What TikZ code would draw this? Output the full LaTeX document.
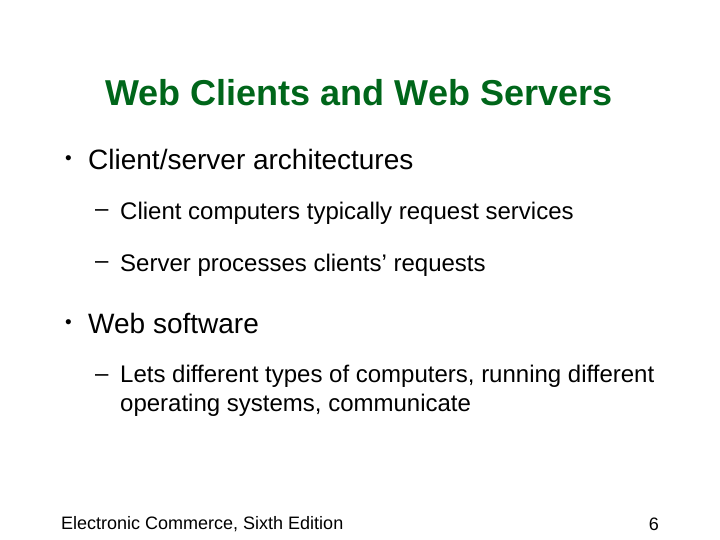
\documentclass[tikz,border=0pt]{standalone}
\usepackage{fontspec}
\setmainfont{Liberation Sans}
\definecolor{titlegreen}{HTML}{00661A}
\begin{document}
\begin{tikzpicture}[x=1pt,y=-1pt,
  lvl1/.style={anchor=west,inner sep=0,font=\fontsize{28}{32}\selectfont},
  dot/.style={anchor=west,inner sep=0,font=\fontsize{19}{22}\selectfont},
  lvl2/.style={anchor=west,inner sep=0,font=\fontsize{24}{29}\selectfont,align=left},
  foot/.style={inner sep=0,font=\fontsize{18}{21}\selectfont}]
\useasboundingbox[fill=white] (0,0) rectangle (720,540);
\node[inner sep=0,text=titlegreen,font=\bfseries\fontsize{36}{42}\selectfont] (title) at (359,93) {Web Clients and Web Servers};
\node[dot] (b1d) at (65,160) {•};
\node[lvl1] (b1) at (88,159) {Client/server architectures};
\node[lvl2] (s1d) at (95,213) {–};
\node[lvl2] (s1) at (120,213) {Client computers typically request services};
\node[lvl2] (s2d) at (95,265) {–};
\node[lvl2] (s2) at (120,265) {Server processes clients’ requests};
\node[dot] (b2d) at (65,324) {•};
\node[lvl1] (b2) at (88,323) {Web software};
\node[lvl2] (s3d) at (95,378) {–};
\node[lvl2,anchor=north west] (s3) at (120,365) {Lets different types of computers, running different\\operating systems, communicate};
\node[foot,anchor=west] (f1) at (61,524) {Electronic Commerce, Sixth Edition};
\node[foot,anchor=east] (f2) at (659,524) {6};
\end{tikzpicture}
\end{document}
